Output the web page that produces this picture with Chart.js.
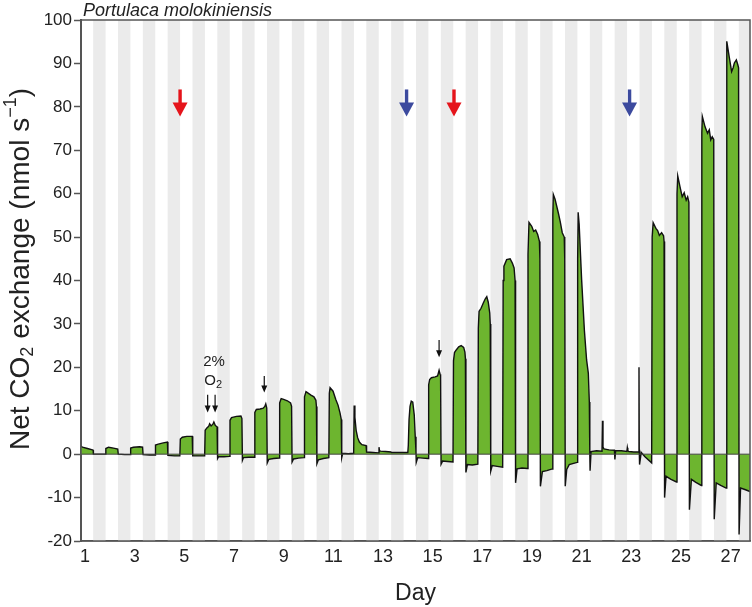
<!DOCTYPE html>
<html>
<head>
<meta charset="utf-8">
<script src="https://cdn.jsdelivr.net/npm/chart.js@4.4.1/dist/chart.umd.min.js"></script>
<style>
  html, body { margin: 0; padding: 0; background: #fff; }
  #wrap { width: 752px; height: 607px; }
</style>
</head>
<body>
<div id="wrap"><canvas id="myChart" width="752" height="607"></canvas></div>
<script>
'use strict';
// time in days, net CO2 exchange in nmol s-1 (one line per day)
const days = [
  0.84, 0.9, 1.1, 1.3, 1.33, 1.34, 1.6, 1.82,
  1.84, 1.95, 2.15, 2.32, 2.34, 2.6, 2.82,
  2.84, 2.95, 3.2, 3.32, 3.34, 3.6, 3.82,
  3.84, 3.95, 4.15, 4.32, 4.34, 4.6, 4.82,
  4.84, 4.92, 5.1, 5.32, 5.34, 5.6, 5.82,
  5.84, 5.9, 5.98, 6.02, 6.08, 6.15, 6.19, 6.25, 6.32, 6.34, 6.38, 6.6, 6.82,
  6.84, 6.9, 7.1, 7.28, 7.32, 7.34, 7.38, 7.6, 7.82,
  7.84, 7.9, 8.05, 8.18, 8.24, 8.28, 8.32, 8.34, 8.4, 8.6, 8.82,
  8.84, 8.9, 9.0, 9.15, 9.28, 9.32, 9.34, 9.4, 9.6, 9.82,
  9.84, 9.9, 10.0, 10.1, 10.22, 10.3, 10.32, 10.34, 10.4, 10.6, 10.82,
  10.84, 10.87, 10.99, 11.1, 11.19, 11.27, 11.32, 11.34, 11.38, 11.6, 11.82,
  11.84, 11.87, 11.92, 11.98, 12.05, 12.15, 12.32, 12.34, 12.6, 12.82,
  12.84, 12.86, 12.9, 13.1, 13.32, 13.34, 13.6, 13.82,
  13.84, 14.0, 14.02, 14.05, 14.09, 14.14, 14.2, 14.26, 14.3, 14.33, 14.34, 14.4, 14.6, 14.82,
  14.84, 14.88, 14.95, 15.1, 15.2, 15.26, 15.3, 15.32, 15.34, 15.4, 15.6, 15.82,
  15.84, 15.88, 15.95, 16.05, 16.15, 16.25, 16.3, 16.32, 16.34, 16.4, 16.6, 16.82,
  16.84, 16.87, 16.95, 17.04, 17.12, 17.18, 17.24, 17.3, 17.32, 17.34, 17.4, 17.6, 17.82,
  17.84, 17.87, 17.98, 18.12, 18.21, 18.28, 18.32, 18.34, 18.4, 18.6, 18.82,
  18.84, 18.88, 18.99, 19.07, 19.15, 19.23, 19.3, 19.32, 19.34, 19.42, 19.6, 19.82,
  19.84, 19.86, 19.93, 20.06, 20.14, 20.22, 20.3, 20.32, 20.34, 20.4, 20.5, 20.82,
  20.84, 20.86, 20.9, 21.0, 21.11, 21.2, 21.27, 21.31, 21.33, 21.34, 21.38, 21.6, 21.82,
  21.84, 21.86, 21.9, 22.1, 22.32, 22.34, 22.37, 22.6, 22.82,
  22.84, 22.86, 22.9, 23.1, 23.3, 23.31, 23.32, 23.33, 23.335, 23.4, 23.55, 23.82,
  23.84, 23.88, 23.99, 24.06, 24.13, 24.22, 24.3, 24.32, 24.34, 24.4, 24.6, 24.82,
  24.84, 24.87, 24.96, 25.05, 25.13, 25.21, 25.27, 25.32, 25.34, 25.42, 25.6, 25.82,
  25.84, 25.86, 25.97, 26.07, 26.14, 26.2, 26.26, 26.32, 26.34, 26.42, 26.6, 26.82,
  26.84, 26.85, 26.94, 27.04, 27.1, 27.15, 27.23, 27.29, 27.32, 27.34, 27.4, 27.6, 27.78
];
const co2 = [
  1.8, 1.6, 1.3, 1.0, 0.9, 0.0, 0.0, 0.0,
  1.3, 1.6, 1.4, 1.2, 0.0, -0.1, -0.1,
  1.4, 1.6, 1.7, 1.6, -0.1, -0.2, -0.2,
  2.1, 2.3, 2.6, 2.8, -0.3, -0.4, -0.4,
  3.5, 3.9, 4.1, 4.1, -0.4, -0.4, -0.4,
  5.5, 6.0, 6.4, 7.0, 6.5, 6.9, 7.4, 6.6, 6.3, -1.0, -0.6, -0.6, -0.5,
  7.8, 8.4, 8.7, 8.8, 8.2, -1.4, -0.8, -0.7, -0.7,
  9.6, 10.3, 10.4, 10.6, 11.0, 11.6, 10.6, -2.0, -1.2, -1.0, -0.9,
  11.8, 12.8, 12.6, 12.3, 11.8, 11.0, -1.8, -1.1, -0.9, -0.8,
  13.2, 14.4, 14.0, 13.6, 13.2, 12.4, 11.0, -2.2, -1.3, -1.0, -0.8,
  14.0, 15.3, 14.5, 12.6, 11.3, 9.5, 8.0, -0.8, 0.2, 0.1, 0.2,
  11.2, 8.5, 5.5, 3.8, 2.8, 2.2, 2.0, 0.5, 0.4, 0.3,
  1.6, 0.8, 0.7, 0.6, 0.5, 0.4, 0.4, 0.4,
  0.4, 0.4, 2.0, 8.0, 11.0, 12.2, 12.0, 9.0, 4.0, 0.5, -1.9, -0.8, -0.9, -1.0,
  16.0, 17.2, 17.6, 17.8, 18.0, 19.3, 18.4, 18.2, -2.3, -1.6, -1.7, -1.8,
  21.5, 23.4, 24.0, 24.7, 25.0, 24.6, 23.5, 22.0, -4.2, -2.4, -2.5, -2.3,
  29.0, 32.9, 33.6, 34.8, 35.8, 36.3, 35.0, 32.5, 30.0, -3.9, -2.6, -2.8, -3.0,
  40.0, 43.3, 44.8, 45.0, 44.0, 42.9, 40.0, -6.6, -3.4, -3.2, -3.3,
  46.0, 53.4, 52.5, 51.3, 51.6, 50.6, 49.0, 45.0, -7.4, -4.0, -3.8, -3.4,
  55.0, 59.8, 58.7, 55.6, 53.5, 51.0, 50.0, 45.0, -7.4, -3.5, -2.4, -1.9,
  45.0, 55.7, 53.0, 40.2, 28.6, 21.7, 18.6, 12.0, 0.0, -3.8, 0.6, 0.8, 0.7,
  7.7, 1.6, 1.2, 1.0, 0.9, -1.2, 0.8, 0.8, 0.6,
  1.5, 0.8, 0.6, 0.5, 0.5, 20.0, 1.0, 0.5, -2.4, 0.4, -0.6, -2.0,
  50.0, 53.3, 52.0, 51.5, 50.4, 51.0, 50.3, 49.0, -10.0, -5.1, -5.8, -6.4,
  60.0, 64.1, 61.6, 59.3, 60.2, 58.5, 59.3, 58.0, -12.8, -5.8, -6.5, -7.2,
  74.0, 77.8, 75.4, 73.9, 74.7, 72.4, 73.1, 72.5, -15.0, -6.6, -7.2, -7.8,
  92.0, 95.1, 91.6, 88.1, 89.0, 90.1, 90.8, 89.7, 89.0, -18.5, -7.8, -8.2, -8.6
];
const dayTicks = [1, 3, 5, 7, 9, 11, 13, 15, 17, 19, 21, 23, 25, 27];
// dark periods (grey bands)
const nightStart = [1.33, 2.33, 3.33, 4.33, 5.33, 6.33, 7.33, 8.33, 9.33, 10.33, 11.33, 12.33, 13.33, 14.33,
  15.33, 16.33, 17.33, 18.33, 19.33, 20.33, 21.33, 22.33, 23.33, 24.33, 25.33, 26.33, 27.33];
const nightEnd = [1.83, 2.83, 3.83, 4.83, 5.83, 6.83, 7.83, 8.83, 9.83, 10.83, 11.83, 12.83, 13.83, 14.83,
  15.83, 16.83, 17.83, 18.83, 19.83, 20.83, 21.83, 22.83, 23.83, 24.83, 25.83, 26.83, 27.83];
// big coloured arrows
const bigArrowDays = [4.83, 13.95, 15.86, 22.93];
const bigArrowColors = ['#e5141b', '#3c4a9e', '#e5141b', '#3c4a9e'];
const bigArrowTop = 84;
const bigArrowTip = 77.8;
// small black arrows
const smallArrowDays = [5.94, 6.24, 8.22, 15.26];
const smallArrowTops = [13.7, 13.7, 18.0, 26.3];
const smallArrowTips = [9.6, 9.6, 14.2, 22.3];

Chart.defaults.font.family = "'Liberation Sans', Arial, Helvetica, sans-serif";
Chart.defaults.color = '#222';

function drawParts(ctx, parts, cx, cy) {
  let total = 0;
  parts.forEach(p => { ctx.font = p.font; total += ctx.measureText(p.text).width; });
  let x = cx - total / 2;
  parts.forEach(p => {
    ctx.font = p.font;
    ctx.fillText(p.text, x, cy + (p.dy || 0));
    x += ctx.measureText(p.text).width;
  });
}

const decor = {
  id: 'decor',
  beforeDatasetsDraw(chart) {
    const {ctx, chartArea, scales: {x}} = chart;
    ctx.save();
    ctx.fillStyle = '#ebebeb';
    for (let i = 0; i < nightStart.length; i++) {
      const x0 = Math.max(x.getPixelForValue(nightStart[i]), chartArea.left);
      const x1 = Math.min(x.getPixelForValue(nightEnd[i]), chartArea.right);
      if (x1 > x0) ctx.fillRect(x0, chartArea.top, x1 - x0, chartArea.bottom - chartArea.top);
    }
    ctx.restore();
  },
  afterDatasetsDraw(chart) {
    const {ctx, chartArea, scales: {x, y}} = chart;
    ctx.save();
    // zero line
    const y0 = y.getPixelForValue(0);
    ctx.strokeStyle = '#444';
    ctx.lineWidth = 1;
    ctx.beginPath();
    ctx.moveTo(chartArea.left, y0);
    ctx.lineTo(chartArea.right, y0);
    ctx.stroke();
    // frame
    ctx.strokeStyle = '#555';
    ctx.lineWidth = 1.5;
    ctx.strokeRect(chartArea.left, chartArea.top, chartArea.right - chartArea.left, chartArea.bottom - chartArea.top);

    // coloured arrows
    for (let i = 0; i < bigArrowDays.length; i++) {
      const ax = x.getPixelForValue(bigArrowDays[i]);
      const top = y.getPixelForValue(bigArrowTop);
      const tip = y.getPixelForValue(bigArrowTip);
      ctx.fillStyle = bigArrowColors[i];
      ctx.fillRect(ax - 1.7, top, 3.4, tip - top - 12);
      ctx.beginPath();
      ctx.moveTo(ax - 7.5, tip - 14);
      ctx.lineTo(ax + 7.5, tip - 14);
      ctx.lineTo(ax, tip);
      ctx.closePath();
      ctx.fill();
    }
    // small black arrows
    ctx.fillStyle = '#111';
    ctx.strokeStyle = '#111';
    for (let i = 0; i < smallArrowDays.length; i++) {
      const ax = x.getPixelForValue(smallArrowDays[i]);
      const top = y.getPixelForValue(smallArrowTops[i]);
      const tip = y.getPixelForValue(smallArrowTips[i]);
      ctx.lineWidth = 1.2;
      ctx.beginPath();
      ctx.moveTo(ax, top);
      ctx.lineTo(ax, tip - 5);
      ctx.stroke();
      ctx.beginPath();
      ctx.moveTo(ax - 3, tip - 7);
      ctx.lineTo(ax + 3, tip - 7);
      ctx.lineTo(ax, tip);
      ctx.closePath();
      ctx.fill();
    }
    // "2% O2" label
    ctx.fillStyle = '#222';
    ctx.textBaseline = 'middle';
    ctx.textAlign = 'left';
    const lx = x.getPixelForValue(6.2);
    drawParts(ctx, [{text: '2%', font: "15px 'Liberation Sans', Arial"}], lx, y.getPixelForValue(21.2));
    drawParts(ctx, [
      {text: 'O', font: "15px 'Liberation Sans', Arial"},
      {text: '2', font: "11px 'Liberation Sans', Arial", dy: 4}
    ], lx - 1, y.getPixelForValue(16.8));

    // species name
    ctx.textBaseline = 'alphabetic';
    ctx.font = "italic 18px 'Liberation Sans', Arial";
    ctx.fillText('Portulaca molokiniensis', chartArea.left + 2, 16);

    // y axis title
    ctx.translate(21, 269);
    ctx.rotate(-Math.PI / 2);
    ctx.textBaseline = 'middle';
    drawParts(ctx, [
      {text: 'Net CO', font: "28px 'Liberation Sans', Arial"},
      {text: '2', font: "18px 'Liberation Sans', Arial", dy: 7},
      {text: ' exchange (nmol s', font: "28px 'Liberation Sans', Arial"},
      {text: '\u22121', font: "18px 'Liberation Sans', Arial", dy: -10},
      {text: ')', font: "28px 'Liberation Sans', Arial"}
    ], 0, 0);
    ctx.restore();
  }
};

const ctx = document.getElementById('myChart').getContext('2d');
const chart = new Chart(ctx, {
  type: 'line',
  data: {
    datasets: [{
      data: days.map((d, i) => ({x: d, y: co2[i]})),
      borderColor: '#111',
      borderWidth: 1.4,
      backgroundColor: '#6db52f',
      fill: 'origin',
      pointRadius: 0,
      tension: 0
    }]
  },
  options: {
    responsive: false,
    animation: false,
    events: [],
    layout: {padding: {top: 20, right: 2, left: 0, bottom: 0}},
    plugins: {legend: {display: false}, tooltip: {enabled: false}},
    scales: {
      x: {
        type: 'linear',
        min: 0.84,
        max: 27.78,
        afterBuildTicks: axis => { axis.ticks = dayTicks.map(v => ({value: v})); },
        grid: {display: false, drawTicks: false},
        border: {display: true, color: '#555', width: 1.5},
        ticks: {font: {size: 18}, color: '#222', padding: 5, maxRotation: 0, autoSkip: false},
        title: {display: true, text: 'Day', font: {size: 23}, color: '#222', padding: {top: 0, bottom: 0}},
        afterFit: scale => { scale.height = 66; }
      },
      y: {
        min: -20,
        max: 100,
        ticks: {stepSize: 10, font: {size: 17}, color: '#222', padding: 2},
        grid: {drawOnChartArea: false, tickLength: 7, color: '#555', tickWidth: 1.5},
        border: {display: true, color: '#555', width: 2},
        afterFit: scale => { scale.width = 81; }
      }
    }
  },
  plugins: [decor]
});
</script>
</body>
</html>
